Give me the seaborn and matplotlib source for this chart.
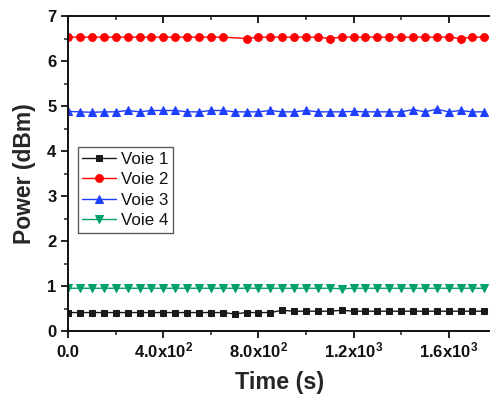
import numpy as np
import pandas as pd
import matplotlib
matplotlib.use("Agg")
import matplotlib.pyplot as plt
import seaborn as sns
from matplotlib.ticker import MultipleLocator, FixedLocator

# ---- data ----
time_s = [0, 50, 100, 150, 200, 250, 300, 350, 400, 450, 500, 550, 600, 650, 700, 750, 800, 850,
          900, 950, 1000, 1050, 1100, 1150, 1200, 1250, 1300, 1350, 1400, 1450, 1500, 1550, 1600,
          1650, 1700, 1750]
voie1 = [0.41, 0.41, 0.41, 0.41, 0.41, 0.41, 0.41, 0.41, 0.41, 0.41, 0.41, 0.41, 0.41, 0.41,
         0.38, 0.41, 0.41, 0.41, 0.46, 0.44, 0.44, 0.44, 0.44, 0.46, 0.44, 0.44, 0.44, 0.44,
         0.44, 0.44, 0.44, 0.44, 0.44, 0.44, 0.44, 0.44]
voie2 = [6.53, 6.53, 6.53, 6.53, 6.53, 6.53, 6.53, 6.53, 6.53, 6.53, 6.53, 6.53, 6.53, 6.53,
         None, 6.50, 6.53, 6.53, 6.53, 6.53, 6.53, 6.53, 6.50, 6.53, 6.53, 6.53, 6.53, 6.53,
         6.53, 6.53, 6.53, 6.53, 6.53, 6.50, 6.53, 6.53]
voie3 = [4.88, 4.87, 4.86, 4.87, 4.87, 4.90, 4.87, 4.90, 4.90, 4.90, 4.87, 4.87, 4.90, 4.90,
         4.87, 4.87, 4.87, 4.90, 4.87, 4.87, 4.90, 4.87, 4.87, 4.87, 4.88, 4.87, 4.87, 4.87,
         4.87, 4.92, 4.87, 4.93, 4.87, 4.90, 4.87, 4.87]
voie4 = [0.95, 0.95, 0.95, 0.95, 0.95, 0.95, 0.95, 0.95, 0.95, 0.95, 0.95, 0.95, 0.95, 0.95,
         0.95, 0.95, 0.95, 0.95, 0.95, 0.95, 0.95, 0.95, 0.95, 0.94, 0.95, 0.95, 0.95, 0.95,
         0.95, 0.95, 0.95, 0.95, 0.95, 0.95, 0.95, 0.95]
series_names = ["Voie 1", "Voie 2", "Voie 3", "Voie 4"]
x_tick_values = [0, 400, 800, 1200, 1600]
x_tick_labels = ["0.0", "4.0x10$^{2}$", "8.0x10$^{2}$", "1.2x10$^{3}$", "1.6x10$^{3}$"]
y_tick_values = [0, 1, 2, 3, 4, 5, 6, 7]

colors = ["#1a1a1a", "#ff0000", "#1f3fff", "#00a06a"]
markers = ["s", "o", "^", "v"]
msizes = [4.6, 5.6, 6.0, 6.0]

sns.set_style("ticks")
plt.rcParams["font.family"] = ["Liberation Sans", "DejaVu Sans"]
plt.rcParams["font.weight"] = "bold"
plt.rcParams["mathtext.fontset"] = "custom"
plt.rcParams["mathtext.rm"] = "Liberation Sans:bold"
plt.rcParams["mathtext.it"] = "Liberation Sans:bold"
plt.rcParams["mathtext.bf"] = "Liberation Sans:bold"
plt.rcParams["mathtext.default"] = "rm"

rows = []
for name, vals in zip(series_names, [voie1, voie2, voie3, voie4]):
    for t, v in zip(time_s, vals):
        if v is not None:
            rows.append({"time": t, "power": v, "channel": name})
df = pd.DataFrame(rows)

fig = plt.figure(figsize=(4.9, 3.99), dpi=100)
ax = fig.add_axes([68.3 / 490, (399 - 331) / 399, (490 - 68.3) / 490, (331 - 16) / 399])

for name, c, m, ms in zip(series_names, colors, markers, msizes):
    sub = df[df["channel"] == name]
    sns.lineplot(data=sub, x="time", y="power", ax=ax, color=c, marker=m,
                 markersize=ms, markeredgecolor=c, linewidth=1.0, label=name,
                 estimator=None, sort=False)

ax.set_xlim(0, 1774)
ax.set_ylim(0, 7)
ax.xaxis.set_major_locator(FixedLocator(x_tick_values))
ax.set_xticklabels(x_tick_labels)
ax.xaxis.set_minor_locator(MultipleLocator(200))
ax.yaxis.set_major_locator(FixedLocator(y_tick_values))
ax.yaxis.set_minor_locator(MultipleLocator(0.5))

for s in ["left", "bottom", "top"]:
    ax.spines[s].set_visible(True)
    ax.spines[s].set_linewidth(1.4)
    ax.spines[s].set_color("#111111")
ax.spines["right"].set_visible(False)

ax.tick_params(axis="both", which="major", direction="out", length=5, width=1.3,
               labelsize=12, colors="#111111")
ax.tick_params(axis="both", which="minor", direction="out", length=3, width=1.1)
ax.tick_params(axis="x", which="both", top=True)
ax.tick_params(axis="x", which="major", pad=14.0)
for lbl in ax.get_xticklabels():
    lbl.set_verticalalignment("baseline")
# top ticks point inward
for t in ax.xaxis.get_major_ticks() + ax.xaxis.get_minor_ticks():
    t.tick2line.set_marker(matplotlib.lines.TICKDOWN)

ax.set_xlabel("Time (s)", fontsize=16.8, fontweight="bold", labelpad=8)
ax.set_ylabel("Power (dBm)", fontsize=16.5, fontweight="bold", labelpad=8)

leg = ax.legend(loc="upper left", bbox_to_anchor=(0.023, 0.583), frameon=True,
                fancybox=False, edgecolor="#333333", fontsize=12.2, handlelength=2.0,
                handletextpad=0.3, borderpad=0.25, labelspacing=0.33, borderaxespad=0)
leg.get_frame().set_linewidth(1.0)
for txt in leg.get_texts():
    txt.set_fontweight("normal")
    txt.set_color("#111111")

fig.savefig("out.png", dpi=100)
